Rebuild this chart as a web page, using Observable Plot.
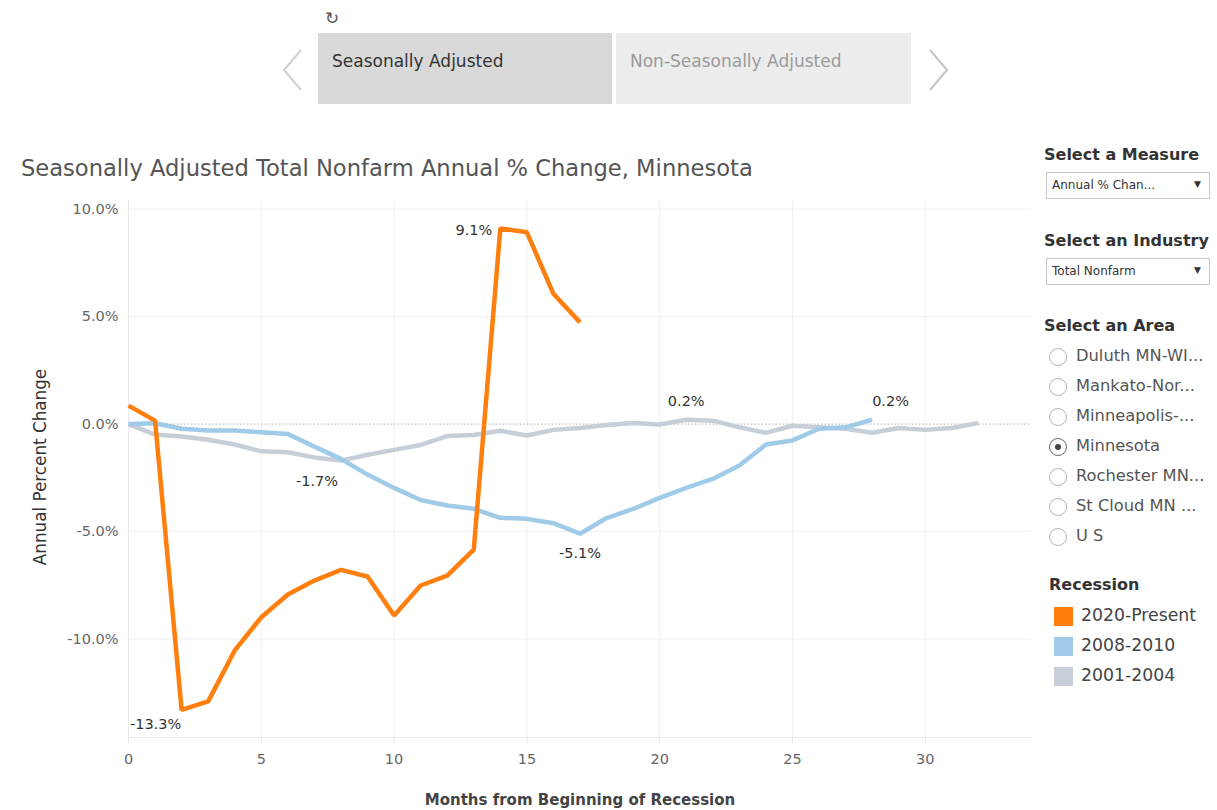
<!DOCTYPE html>
<html>
<head>
<meta charset="utf-8">
<script src="https://cdn.jsdelivr.net/npm/d3@7"></script>
<script src="https://cdn.jsdelivr.net/npm/@observablehq/plot@0.6"></script>
<style>
  html, body { margin: 0; padding: 0; background: #fff; }
  body { width: 1217px; height: 810px; position: relative; overflow: hidden; font-family: "DejaVu Sans", sans-serif; color: #333; }
  .abs { position: absolute; white-space: nowrap; }
  .tab { position: absolute; top: 33px; height: 71px; box-sizing: border-box; padding-left: 14px; padding-top: 18px; font-size: 17px; white-space: nowrap; }
  .hdr { position: absolute; left: 1044px; font-weight: bold; font-size: 16px; color: #333; white-space: nowrap; }
  .dd { position: absolute; left: 1046px; width: 164px; height: 27px; box-sizing: border-box; border: 1px solid #c8c8c8; font-size: 12px; color: #333; padding: 5px 0 0 5px; white-space: nowrap; }
  .dd span { position: absolute; right: 8px; top: 6px; font-size: 9px; }
  .radio { position: absolute; left: 1049px; height: 20px; font-size: 16.3px; color: #555; white-space: nowrap; }
  .radio i { position: absolute; left: 0; top: 1px; width: 18px; height: 18px; box-sizing: border-box; border: 1px solid #b5b5b5; border-radius: 50%; }
  .radio i.on { border-color: #666; }
  .radio i.on::after { content: ""; position: absolute; left: 5px; top: 5px; width: 6px; height: 6px; border-radius: 50%; background: #444; }
  .radio b { position: absolute; left: 27px; top: -1px; font-weight: normal; }
  .leg { position: absolute; left: 1054px; font-size: 17.3px; color: #444; white-space: nowrap; }
  .leg i { position: absolute; left: 0; top: 0; width: 19px; height: 19px; }
  .leg b { position: absolute; left: 27px; top: -2px; font-weight: normal; }
  #chart { position: absolute; left: 0; top: 190px; }
</style>
</head>
<body>
<div class="abs" style="left:325px;top:8px;font-size:17px;color:#555;">↻</div>
<svg class="abs" style="left:276px;top:44px" width="34" height="52"><polyline points="25,6 8,26 25,46" fill="none" stroke="#d0d0d0" stroke-width="2"/></svg>
<svg class="abs" style="left:922px;top:44px" width="34" height="52"><polyline points="8,6 25,26 8,46" fill="none" stroke="#c4c4c4" stroke-width="2"/></svg>
<div class="tab" style="left:318px;width:294px;background:#d9d9d9;color:#333;">Seasonally Adjusted</div>
<div class="tab" style="left:616px;width:295px;background:#ececec;color:#9a9a9a;">Non-Seasonally Adjusted</div>

<div class="abs" id="title" style="left:21px;top:155px;font-size:22.6px;color:#555;">Seasonally Adjusted Total Nonfarm Annual % Change, Minnesota</div>

<div class="hdr" style="top:145px;">Select a Measure</div>
<div class="dd" style="top:172px;">Annual % Chan...<span>▼</span></div>
<div class="hdr" style="top:231px;">Select an Industry</div>
<div class="dd" style="top:258px;">Total Nonfarm<span>▼</span></div>
<div class="hdr" style="top:316px;">Select an Area</div>
<div id="areas"></div>
<div class="hdr" style="top:575px;left:1049px;">Recession</div>
<div id="legend"></div>

<div id="chart"></div>
<div class="abs" style="left:40px;top:467px;transform:translate(-50%,-50%) rotate(-90deg);font-size:16.8px;color:#333;">Annual Percent Change</div>
<div class="abs" style="left:580px;top:800px;transform:translate(-50%,-50%);font-size:15px;font-weight:bold;color:#444;">Months from Beginning of Recession</div>

<script>
// ---- data ----
const seriesNames = ["2020-Present", "2008-2010", "2001-2004"];
const seriesColors = ["#ff7f0e", "#a0cbe8", "#c7ced7"];
const rec2020 = [0.86, 0.16, -13.3, -12.9, -10.53, -8.99, -7.93, -7.28, -6.78, -7.09, -8.91, -7.51, -7.05, -5.84, 9.1, 8.92, 6.06, 4.73];
const rec2008 = [0.0, 0.04, -0.22, -0.3, -0.3, -0.38, -0.46, -1.05, -1.62, -2.35, -2.97, -3.53, -3.79, -3.94, -4.36, -4.41, -4.61, -5.1, -4.37, -3.95, -3.43, -2.97, -2.55, -1.93, -0.95, -0.76, -0.22, -0.15, 0.2];
const rec2001 = [0.0, -0.49, -0.58, -0.73, -0.95, -1.27, -1.31, -1.55, -1.7, -1.43, -1.2, -0.97, -0.56, -0.51, -0.31, -0.53, -0.27, -0.18, -0.04, 0.05, -0.02, 0.2, 0.16, -0.15, -0.41, -0.08, -0.15, -0.22, -0.4, -0.18, -0.27, -0.18, 0.05];
const xTicks = [0, 5, 10, 15, 20, 25, 30];
const yTicks = [-10, -5, 0, 5, 10];
const areas = ["Duluth MN-WI...", "Mankato-Nor...", "Minneapolis-...", "Minnesota", "Rochester MN...", "St Cloud MN ...", "U S"];
const selectedArea = "Minnesota";

// ---- side panel ----
document.getElementById("areas").innerHTML = areas.map((a, i) =>
  `<div class="radio" style="top:${347 + i * 30}px"><i class="${a === selectedArea ? "on" : ""}"></i><b>${a}</b></div>`).join("");
document.getElementById("legend").innerHTML = seriesNames.map((s, i) =>
  `<div class="leg" style="top:${607 + i * 30}px"><i style="background:${seriesColors[i]}"></i><b>${s}</b></div>`).join("");

// ---- chart data ----
const bySeries = {"2020-Present": rec2020, "2008-2010": rec2008, "2001-2004": rec2001};
const drawOrder = ["2001-2004", "2008-2010", "2020-Present"];
const data = drawOrder.flatMap(s => bySeries[s].map((v, m) => ({series: s, month: m, value: v})));

// min / max labels per series
const fmt = v => v.toFixed(1) + "%";
const extremes = [];
for (const s of drawOrder) {
  const pts = data.filter(d => d.series === s);
  extremes.push({...d3.least(pts, d => d.value), kind: "min"});
  extremes.push({...d3.greatest(pts, d => d.value), kind: "max"});
}
const labelStyle = {
  "2020-Present min": {dx: -26, dy: 14, anchor: "middle"},
  "2020-Present max": {dx: -8, dy: 2, anchor: "end"},
  "2008-2010 min": {dx: 0, dy: 20, anchor: "middle"},
  "2008-2010 max": {dx: 0, dy: -18, anchor: "start"},
  "2001-2004 min": {dx: -24, dy: 21, anchor: "middle"},
  "2001-2004 max": {dx: 0, dy: -18, anchor: "middle"}
};
const labelMarks = extremes.map(e => {
  const st = labelStyle[e.series + " " + e.kind];
  return Plot.text([e], {x: "month", y: "value", text: d => fmt(d.value), dx: st.dx, dy: st.dy,
    textAnchor: st.anchor, fill: "#333", fontSize: 14.5});
});

const chart = Plot.plot({
  width: 1040,
  height: 620,
  marginLeft: 128,
  marginTop: 10,
  marginBottom: 73,
  marginRight: 9,
  style: {fontFamily: '"DejaVu Sans", sans-serif', background: "transparent"},
  x: {domain: [0, 34]},
  y: {domain: [-14.58, 10.4]},
  color: {domain: seriesNames, range: seriesColors},
  marks: [
    Plot.gridX(xTicks, {stroke: "#efefef", strokeOpacity: 1, strokeWidth: 1}),
    Plot.gridY(yTicks.filter(d => d !== 0), {stroke: "#efefef", strokeOpacity: 1, strokeWidth: 1}),
    Plot.ruleY([0], {stroke: "#b0b0b0", strokeDasharray: "1.5,2", strokeWidth: 1}),
    Plot.ruleX([0], {stroke: "#e8e8e8"}),
    Plot.ruleY([-14.58], {stroke: "#e8e8e8"}),
    Plot.axisX(xTicks, {tickSize: 6, tickPadding: 10, stroke: "#e4e4e4", fill: "#666", fontSize: 14.5, label: null}),
    Plot.axisY(yTicks, {tickSize: 0, tickPadding: 10, tickFormat: fmt, fill: "#666", fontSize: 14.5, label: null}),
    Plot.line(data, {x: "month", y: "value", z: "series", stroke: "series", strokeWidth: 4.5, strokeLinejoin: "miter", strokeLinecap: "butt"}),
    ...labelMarks
  ]
});
document.getElementById("chart").appendChild(chart);
</script>
</body>
</html>
